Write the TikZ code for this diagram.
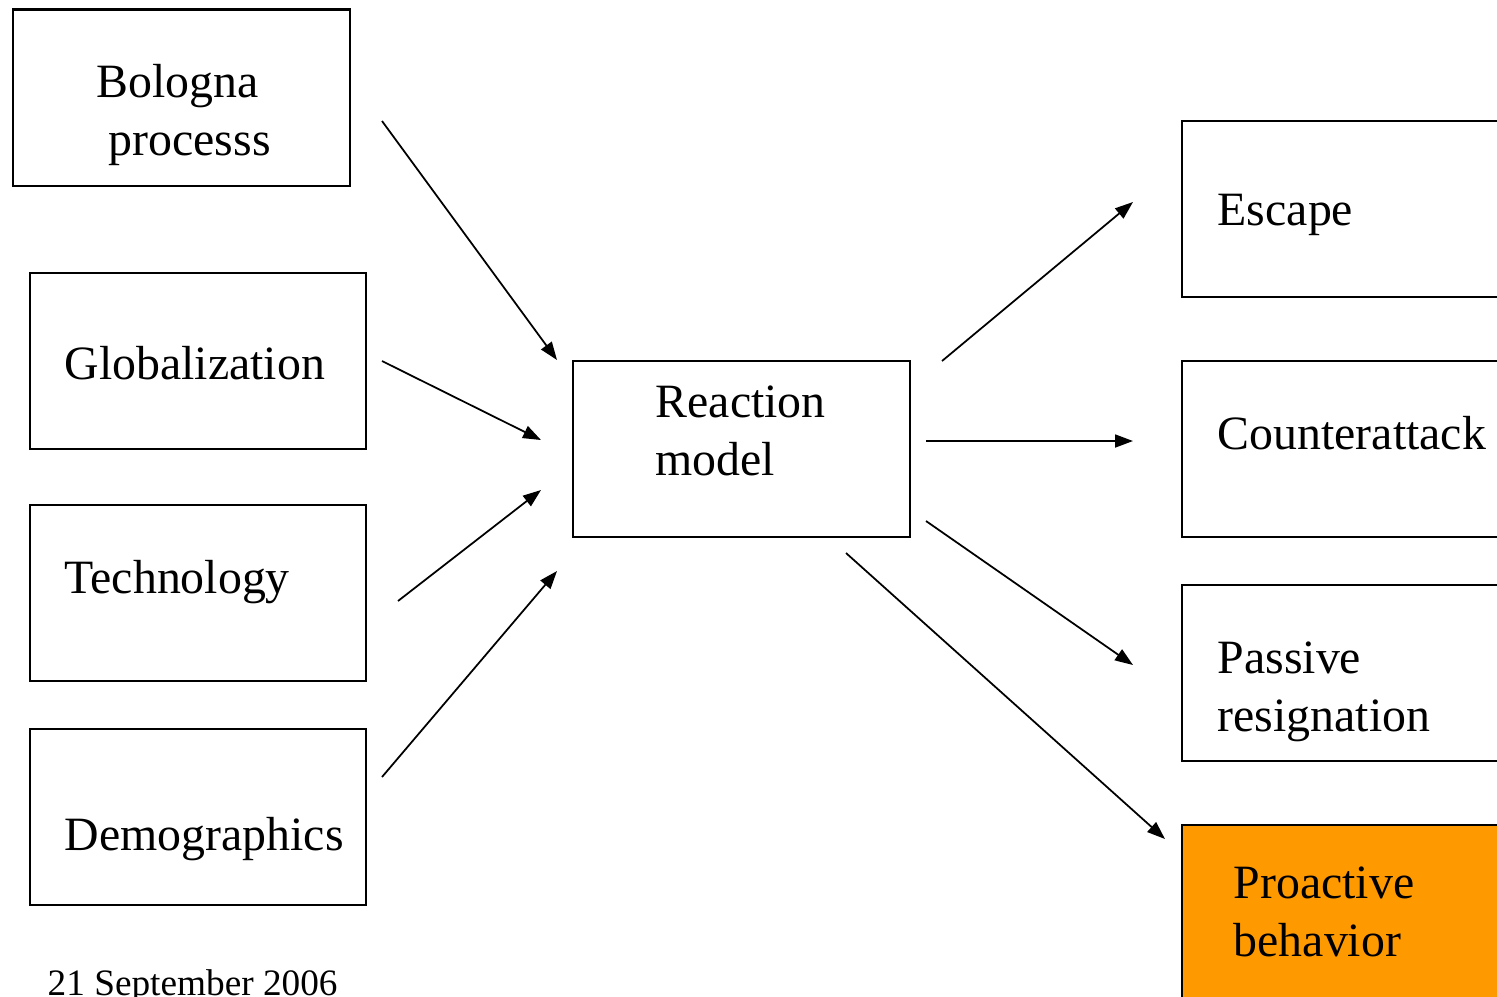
\documentclass[tikz,border=0pt]{standalone}
\usepackage{fontspec}
\setmainfont{Liberation Serif}
\usetikzlibrary{arrows.meta}
\definecolor{proactiveorange}{HTML}{FF9900}

\begin{document}
\begin{tikzpicture}[x=0.01cm, y=-0.01cm,
    box/.style={draw, line width=0.6pt, minimum width=3.36cm, minimum height=1.76cm, inner sep=0},
    boxtext/.style={anchor=west, align=left, inner sep=0, font=\fontsize{13.6}{16.5}\selectfont},
    arrow/.style={line width=0.5pt, -{Triangle[length=0.18cm, width=0.13cm]}}]

    \useasboundingbox (0,0) rectangle (1497,996);
    \clip (0,0) rectangle (1497,996);

    % drivers
    \node [box] (bologna) at (181.5,97.5) {};
    \foreach \name/\y in {globalization/361, technology/593, demographics/817}
        \node [box] (\name) at (198,\y) {};

    % model
    \node [box] (reaction) at (741.5,449) {};

    % reactions
    \foreach \name/\y in {escape/209, counterattack/449, passive/673}
        \node [box] (\name) at (1350,\y) {};
    \node [box, fill=proactiveorange] (proactive) at (1350,913) {};

    % texts
    \node [boxtext] (bolognatext) at (96,115) {Bologna\\\hspace*{0.12cm}processs};
    \node [boxtext] (globalizationtext) at (64,363) {Globalization};
    \node [boxtext] (technologytext) at (64,582) {Technology};
    \node [boxtext] (demographicstext) at (64,839) {Demographics};
    \node [boxtext] (reactiontext) at (655,431) {Reaction\\model};
    \node [boxtext] (escapetext) at (1217,215) {Escape};
    \node [boxtext] (counterattacktext) at (1217,433) {Counterattack};
    \node [boxtext] (passivetext) at (1217,692) {Passive\\resignation};
    \node [boxtext] (proactivetext) at (1233,912) {Proactive\\behavior};
    \node [anchor=base west, inner sep=0, font=\fontsize{10.6}{12}\selectfont] (date) at (47,995) {21 September 2006};

    % arrow ends
    \coordinate (bologna-out) at (382,121);
    \coordinate (bologna-in) at (557,360);
    \coordinate (globalization-out) at (382,361);
    \coordinate (globalization-in) at (541,440);
    \coordinate (technology-out) at (398,601);
    \coordinate (technology-in) at (541,490);
    \coordinate (demographics-out) at (382,777);
    \coordinate (demographics-in) at (557,571);
    \coordinate (escape-out) at (942,361);
    \coordinate (escape-in) at (1133,202);
    \coordinate (counterattack-out) at (926,441);
    \coordinate (counterattack-in) at (1133,441);
    \coordinate (passive-out) at (926,521);
    \coordinate (passive-in) at (1133,665);
    \coordinate (proactive-out) at (846,553);
    \coordinate (proactive-in) at (1165,839);

    \foreach \name in {bologna, globalization, technology, demographics, escape, counterattack, passive, proactive}
        \draw [arrow] (\name-out) -- (\name-in);

\end{tikzpicture}
\end{document}
